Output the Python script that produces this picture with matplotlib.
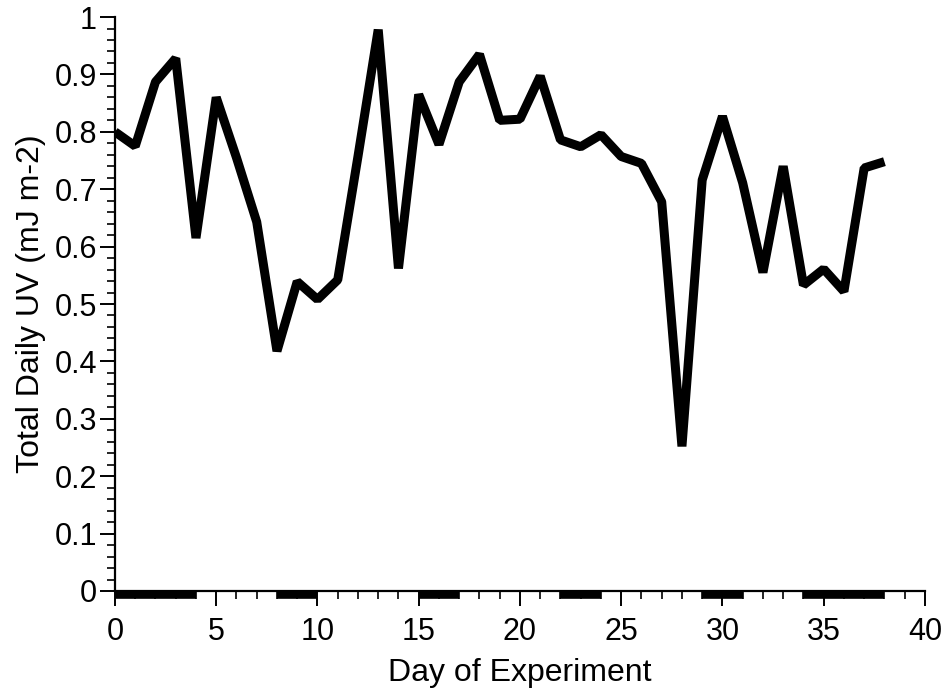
import matplotlib
matplotlib.use("Agg")
import matplotlib.pyplot as plt
from matplotlib.ticker import MultipleLocator

plt.rcParams['font.family'] = ['Liberation Sans', 'DejaVu Sans']

days = list(range(39))
uv = [0.800, 0.775, 0.887, 0.928, 0.615, 0.860, 0.755, 0.643, 0.418, 0.539,
      0.508, 0.542, 0.757, 0.978, 0.562, 0.865, 0.778, 0.887, 0.935, 0.820,
      0.822, 0.897, 0.786, 0.774, 0.795, 0.757, 0.745, 0.678, 0.252, 0.716,
      0.827, 0.711, 0.555, 0.740, 0.533, 0.561, 0.522, 0.737, 0.748]

# periods marked along the day axis (start day, end day)
period_start = [0, 8, 15, 22, 29, 34]
period_end = [4, 10, 17, 24, 31, 38]

y_ticks = [i / 10 for i in range(11)]
y_labels = ['0', '0.1', '0.2', '0.3', '0.4', '0.5', '0.6', '0.7',
            '0.8', '0.9', '1']

fig = plt.figure(figsize=(9.44, 6.98), dpi=100)
ax = fig.add_axes([0.1218, 0.1533, 0.858, 0.8223])

ax.plot(days, uv, color='black', lw=6.5, solid_joinstyle='bevel',
        solid_capstyle='butt', zorder=3)

for s, e in zip(period_start, period_end):
    ax.plot([s, e], [-0.007, -0.007], color='black', lw=5.5,
            solid_capstyle='butt', clip_on=False, zorder=4)

ax.set_xlim(0, 40)
ax.set_ylim(0, 1)
ax.xaxis.set_major_locator(MultipleLocator(5))
ax.xaxis.set_minor_locator(MultipleLocator(1))
ax.yaxis.set_minor_locator(MultipleLocator(0.02))
ax.set_yticks(y_ticks)
ax.set_yticklabels(y_labels)

for side in ('top', 'right'):
    ax.spines[side].set_visible(False)
for side in ('left', 'bottom'):
    ax.spines[side].set_linewidth(1.6)

ax.tick_params(which='major', direction='out', length=11, width=1.4,
               labelsize=22)
ax.tick_params(axis='y', which='major', pad=2)
ax.tick_params(axis='x', which='major', pad=8)
ax.tick_params(which='minor', direction='out', length=5.5, width=1.2)

ax.set_xlabel('Day of Experiment', fontsize=23, labelpad=8)
ax.set_ylabel('Total Daily UV (mJ m-2)', fontsize=23, labelpad=6)

fig.savefig('out.png', dpi=100)
